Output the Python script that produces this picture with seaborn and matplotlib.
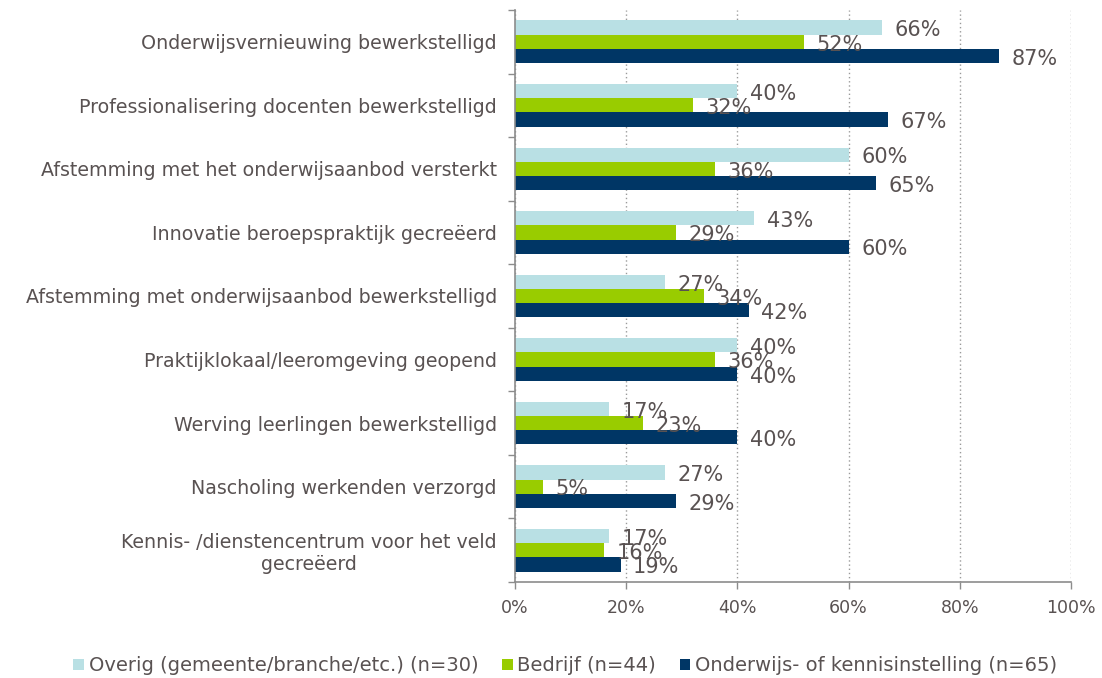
import matplotlib
matplotlib.use("Agg")
import matplotlib.pyplot as plt
import seaborn as sns
import pandas as pd
from matplotlib.ticker import FuncFormatter, FixedLocator

# categories, top to bottom
categories = [
    "Onderwijsvernieuwing bewerkstelligd",
    "Professionalisering docenten bewerkstelligd",
    "Afstemming met het onderwijsaanbod versterkt",
    "Innovatie beroepspraktijk gecreëerd",
    "Afstemming met onderwijsaanbod bewerkstelligd",
    "Praktijklokaal/leeromgeving geopend",
    "Werving leerlingen bewerkstelligd",
    "Nascholing werkenden verzorgd",
    "Kennis- /dienstencentrum voor het veld\ngecreëerd",
]
series = [
    "Overig (gemeente/branche/etc.) (n=30)",
    "Bedrijf (n=44)",
    "Onderwijs- of kennisinstelling (n=65)",
]
overig = [66, 40, 60, 43, 27, 40, 17, 27, 17]
bedrijf = [52, 32, 36, 29, 34, 36, 23, 5, 16]
onderwijs = [87, 67, 65, 60, 42, 40, 40, 29, 19]
x_ticks = [0, 20, 40, 60, 80, 100]

colors = ["#b9e0e4", "#99cc00", "#003665"]
text_col = "#595252"

df = pd.DataFrame({
    "categorie": categories * 3,
    "groep": [series[0]] * 9 + [series[1]] * 9 + [series[2]] * 9,
    "pct": overig + bedrijf + onderwijs,
})

sns.set_theme(style="white")
plt.rcParams["font.family"] = ["DejaVu Sans"]

fig = plt.figure(figsize=(11.02, 6.78), dpi=100)
ax = fig.add_axes([0.4673, 0.1416, 0.5046, 0.8437])

sns.barplot(data=df, y="categorie", x="pct", hue="groep", order=categories,
            hue_order=series, palette=colors, orient="h", width=0.67,
            saturation=1, errorbar=None, linewidth=0, ax=ax)

for cont in ax.containers:
    txts = ax.bar_label(cont, fmt="{:.0f}%", padding=9, fontsize=15, color=text_col)
    for t in txts:
        t.xyann = (9, -2)  # labels sit a little below the bar centre

ax.set_xlim(0, 100)
ax.set_ylim(len(categories) - 0.5, -0.5)
ax.set_xticks(x_ticks)
ax.xaxis.set_major_formatter(FuncFormatter(lambda v, p: f"{v:.0f}%"))
ax.xaxis.grid(True, linestyle=(0, (1, 2)), color="#9a9a9a", linewidth=1)
ax.yaxis.grid(False)
ax.set_axisbelow(True)
ax.set_xlabel("")
ax.set_ylabel("")

# ticks between categories on the y axis
ax.yaxis.set_minor_locator(FixedLocator([i - 0.5 for i in range(len(categories) + 1)]))
ax.tick_params(axis="y", which="major", length=0, pad=13, labelsize=13.7, labelcolor=text_col)
ax.tick_params(axis="y", which="minor", left=True, length=5, width=1, color="#8c8c8c")
ax.tick_params(axis="x", which="major", bottom=True, length=5, width=1, color="#8c8c8c",
               pad=7, labelsize=12.5, labelcolor=text_col)
for lbl in ax.get_yticklabels():
    lbl.set_multialignment("center")

for s in ["top", "right"]:
    ax.spines[s].set_visible(False)
for s in ["left", "bottom"]:
    ax.spines[s].set_color("#8c8c8c")
    ax.spines[s].set_linewidth(1.2)

handles, labels = ax.get_legend_handles_labels()
ax.legend_.remove()
fig.legend(handles, labels, loc="center", bbox_to_anchor=(0.513, 0.018), ncol=3,
           frameon=False, fontsize=14, labelcolor=text_col, handlelength=0.55,
           handleheight=0.55, handletextpad=0.25, columnspacing=1.2)

fig.savefig("out.png", dpi=100)
